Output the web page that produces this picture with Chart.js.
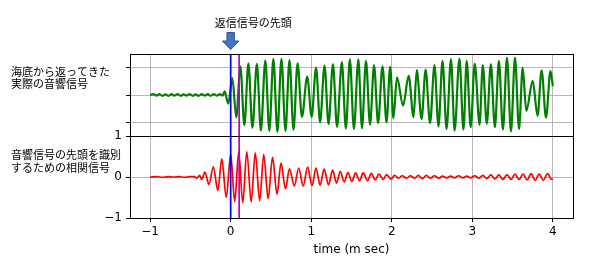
<!DOCTYPE html>
<html><head><meta charset="utf-8">
<script src="https://cdn.jsdelivr.net/npm/chart.js@4.4.1/dist/chart.umd.min.js"></script>
<style>html,body{margin:0;padding:0;background:#fff}canvas{display:block}</style>
</head><body>
<canvas id="c" width="606" height="260"></canvas>
<script>
// ---- data ----
const xTicks = [-1, 0, 1, 2, 3, 4];
const xTickLabels = ['\u22121', '0', '1', '2', '3', '4'];
const topTicks = [-1, 0, 1];
const botTicks = [-1, 0, 1];
const botTickLabels = ['\u22121', '0', '1'];
const xRange = [-1.25, 4.25];
const topRange = [-1.5, 1.5];
const botRange = [-1, 1];
const headTime = 0;        // blue line: head of returned signal
const detectTime = 0.105;  // magenta line
const xLabel = 'time (m sec)';
const topLabel = ['海底から返ってきた', '実際の音響信号'];
const botLabel = ['音響信号の先頭を識別', 'するための相関信号'];
const arrowLabel = '返信信号の先頭';

// green: received acoustic signal (extrema)
const greenT = [-1.0,-0.96,-0.92,-0.885,-0.85,-0.81,-0.77,-0.735,-0.70,-0.66,-0.62,-0.585,-0.55,-0.51,-0.47,-0.435,-0.40,-0.36,-0.32,-0.285,-0.25,-0.21,-0.17,-0.135,-0.10,-0.075,-0.03,
  0.02,0.07,0.12,0.17,0.22,0.27,0.325,0.375,0.43,0.48,0.53,0.58,0.63,0.68,0.73,0.78,0.83,0.885,0.95,1.005,
  1.06,1.11,1.165,1.215,1.27,1.32,1.38,1.43,1.48,1.53,1.585,1.63,1.68,1.73,1.78,1.83,1.885,1.935,1.98,2.02,
  2.065,2.14,2.21,2.27,2.31,2.37,2.42,2.475,2.53,2.58,2.63,2.68,2.735,2.78,2.84,2.89,2.93,2.98,
  3.03,3.09,3.13,3.18,3.23,3.28,3.33,3.38,3.43,3.48,3.53,3.58,3.625,3.67,3.75,3.81,3.86,3.915,3.97,4.0];
const greenV = [0.0,0.03,-0.02,0.03,-0.03,0.02,-0.03,0.03,-0.02,0.03,-0.03,0.02,-0.02,0.03,-0.03,0.02,-0.03,0.03,-0.02,0.03,-0.03,0.03,-0.02,0.03,-0.02,0.13,-0.32,
  0.62,-0.82,1.05,-1.10,1.16,-1.20,1.14,-1.30,1.26,-1.32,1.32,-1.35,1.32,-1.32,1.28,-1.28,1.16,-0.80,0.67,-0.80,
  1.0,-1.0,1.08,-1.06,1.13,-1.17,1.20,-1.23,1.30,-1.25,1.30,-1.21,1.25,-1.09,1.09,-1.03,1.05,-1.0,1.03,-0.85,
  0.65,-0.39,0.70,-0.81,0.91,-0.88,0.93,-1.03,1.09,-1.15,1.25,-1.25,1.31,-1.30,1.33,-1.27,1.25,-1.18,
  1.15,-1.09,1.09,-1.05,1.13,-1.18,1.25,-1.27,1.37,-1.33,1.37,-1.25,1.0,-0.58,0.52,-0.76,0.90,-0.83,0.87,0.32];

// red: correlation signal (extrema)
const redT = [-1.0,-0.92,-0.85,-0.78,-0.71,-0.64,-0.57,-0.51,-0.45,-0.42,-0.385,-0.36,-0.32,-0.27,-0.215,-0.16,-0.11,-0.055,
  0.0,0.05,0.1,0.15,0.2,0.255,0.305,0.36,0.41,0.465,0.52,0.575,0.625,0.68,0.73,0.79,0.845,0.9,0.955,1.01,
  1.06,1.11,1.16,1.215,1.265,1.315,1.36,1.41,1.455,1.505,1.55,1.6,1.645,1.7,1.745,1.795,1.84,1.895,1.935,1.99,
  2.035,2.085,2.13,2.185,2.23,2.285,2.33,2.38,2.43,2.48,2.53,2.58,2.63,2.68,2.73,2.78,2.83,2.88,2.93,2.98,
  3.03,3.08,3.13,3.18,3.23,3.28,3.33,3.38,3.43,3.48,3.53,3.58,3.63,3.68,3.73,3.78,3.83,3.88,3.935,3.985,4.0];
const redV = [0.0,0.01,-0.01,0.01,0.0,0.01,-0.01,0.01,0.01,-0.03,0.04,-0.06,0.12,-0.18,0.25,-0.33,0.44,-0.50,
  0.56,-0.60,0.62,-0.63,0.62,-0.61,0.59,-0.58,0.55,-0.53,0.48,-0.42,0.34,-0.29,0.20,-0.22,0.22,-0.22,0.24,-0.21,
  0.22,-0.20,0.19,-0.19,0.17,-0.15,0.14,-0.12,0.11,-0.11,0.10,-0.09,0.10,-0.09,0.09,-0.07,0.07,-0.06,0.06,-0.05,
  0.04,-0.03,0.03,-0.03,0.03,-0.03,0.04,-0.04,0.04,-0.03,0.03,-0.03,0.02,-0.02,0.02,-0.02,0.03,-0.02,0.02,-0.02,
  0.03,-0.03,0.04,-0.04,0.05,-0.05,0.05,-0.06,0.06,-0.06,0.07,-0.06,0.07,-0.07,0.08,-0.08,0.07,-0.08,0.08,-0.06,-0.04];

// ---- chart ----
const pts = (ts, vs) => ts.map((t, i) => ({x: t, y: vs[i]}));
const vline = (t, r) => [{x: t, y: r[0]}, {x: t, y: r[1]}];

Chart.defaults.font.family = '"DejaVu Sans", sans-serif';
Chart.defaults.font.size = 12;
Chart.defaults.color = '#000';

const BLUE = '#0000ff', MAG = '#bf00bf', GREEN = '#008000', RED = '#ff0000';
const straight = {pointRadius: 0, tension: 0, cubicInterpolationMode: 'default', borderWidth: 1.7, fill: false};
const curve = {pointRadius: 0, cubicInterpolationMode: 'monotone', fill: false};

const decor = {
  id: 'decor',
  afterDatasetsDraw(chart) {
    const {ctx, chartArea: a, scales} = chart;
    ctx.save();
    ctx.strokeStyle = '#000';
    ctx.lineWidth = 1;
    [scales.yTop, scales.yBot].forEach(s => {
      ctx.strokeRect(Math.round(a.left) + 0.5, Math.round(s.top) + 0.5,
        Math.round(a.right - a.left), Math.round(s.bottom - s.top));
    });
    ctx.fillStyle = '#000';
    ctx.font = '11px "Noto Sans CJK JP"';
    ctx.textBaseline = 'middle';
    ctx.textAlign = 'left';
    topLabel.forEach((t, i) => ctx.fillText(t, 11, 71.5 + i * 12.5));
    botLabel.forEach((t, i) => ctx.fillText(t, 11, 155 + i * 12.5));
    // arrow pointing to the head of the signal
    const ax = scales.x.getPixelForValue(headTime);
    const top = a.top;
    ctx.fillText(arrowLabel, ax - 16, top - 31);
    ctx.beginPath();
    ctx.moveTo(ax - 3.7, top - 21.5);
    ctx.lineTo(ax + 3.7, top - 21.5);
    ctx.lineTo(ax + 3.7, top - 13);
    ctx.lineTo(ax + 8.3, top - 13);
    ctx.lineTo(ax, top - 4.5);
    ctx.lineTo(ax - 8.3, top - 13);
    ctx.lineTo(ax - 3.7, top - 13);
    ctx.closePath();
    ctx.fillStyle = '#4472c4';
    ctx.fill();
    ctx.strokeStyle = '#2f5597';
    ctx.lineWidth = 1;
    ctx.stroke();
    ctx.restore();
  }
};

const gridCommon = {color: '#b0b0b0', lineWidth: 0.9, tickColor: '#000', tickLength: 4, tickWidth: 1};

new Chart(document.getElementById('c'), {
  type: 'line',
  data: {
    datasets: [
      {...straight, data: vline(headTime, topRange), borderColor: BLUE, yAxisID: 'yTop'},
      {...straight, data: vline(headTime, botRange), borderColor: BLUE, yAxisID: 'yBot'},
      {...straight, data: vline(detectTime, topRange), borderColor: MAG, yAxisID: 'yTop'},
      {...straight, data: vline(detectTime, botRange), borderColor: MAG, yAxisID: 'yBot'},
      {...curve, data: pts(greenT, greenV), borderColor: GREEN, borderWidth: 2.2, yAxisID: 'yTop'},
      {...curve, data: pts(redT, redV), borderColor: RED, borderWidth: 1.7, yAxisID: 'yBot'}
    ]
  },
  options: {
    responsive: false,
    animation: false,
    devicePixelRatio: 1,
    events: [],
    layout: {padding: {left: 0, right: 33, top: 54, bottom: 0}},
    plugins: {legend: {display: false}, tooltip: {enabled: false}},
    scales: {
      x: {
        type: 'linear', position: 'bottom', min: xRange[0], max: xRange[1],
        afterBuildTicks: s => { s.ticks = xTicks.map(v => ({value: v})); },
        afterFit: s => { s.height = 42; },
        ticks: {autoSkip: false, maxRotation: 0, padding: 3, callback: (v, i) => xTickLabels[i]},
        grid: gridCommon,
        border: {display: false},
        title: {display: true, text: xLabel, font: {size: 12}, padding: {top: 0, bottom: 3}}
      },
      yBot: {
        type: 'linear', position: 'left', stack: 'plots', stackWeight: 1,
        min: botRange[0], max: botRange[1],
        afterBuildTicks: s => { s.ticks = botTicks.map(v => ({value: v})); },
        afterFit: s => { s.width = 130; },
        ticks: {autoSkip: false, padding: 4, callback: (v, i) => botTickLabels[i]},
        grid: gridCommon,
        border: {display: false}
      },
      yTop: {
        type: 'linear', position: 'left', stack: 'plots', stackWeight: 1,
        min: topRange[0], max: topRange[1],
        afterBuildTicks: s => { s.ticks = topTicks.map(v => ({value: v})); },
        afterFit: s => { s.width = 130; },
        ticks: {autoSkip: false, padding: 4, callback: () => ''},
        grid: gridCommon,
        border: {display: false}
      }
    }
  },
  plugins: [decor]
});
</script>
</body></html>
